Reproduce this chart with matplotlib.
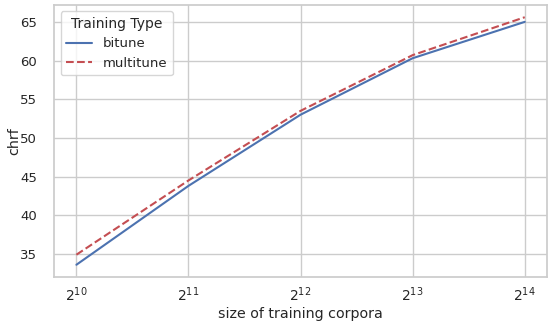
import matplotlib
matplotlib.use("Agg")
import matplotlib.pyplot as plt
import seaborn as sns

sns.set_theme(style="whitegrid")
plt.rcParams['font.family'] = ['DejaVu Sans']

sizes = [2**10, 2**11, 2**12, 2**13, 2**14]
bitune = [33.6, 43.8, 53.0, 60.3, 65.0]
multitune = [34.9, 44.5, 53.5, 60.7, 65.6]

fig = plt.figure(figsize=(5.48, 3.23), dpi=100)
ax = fig.add_axes([0.0985, 0.142, 0.9, 0.843])
ax.plot(sizes, bitune, color="#4c72b0", lw=1.5, label="bitune")
ax.plot(sizes, multitune, color="#c44e52", lw=1.5, ls="--", label="multitune")
ax.set_xscale("log", base=2)
ax.set_xticks(sizes)
ax.set_xticklabels([r"$2^{10}$", r"$2^{11}$", r"$2^{12}$", r"$2^{13}$", r"$2^{14}$"])
ax.minorticks_off()
ax.set_yticks([35, 40, 45, 50, 55, 60, 65])
ax.tick_params(axis="x", labelsize=10, pad=0)
ax.tick_params(axis="y", labelsize=9.5, pad=6)
ax.set_xlabel("size of training corpora", fontsize=10.3, labelpad=2)
ax.set_ylabel("chrf", fontsize=10.3, labelpad=-1)
ax.legend(title="Training Type", loc="upper left", fontsize=9.5, title_fontsize=10)
fig.savefig("out.png", dpi=100)
